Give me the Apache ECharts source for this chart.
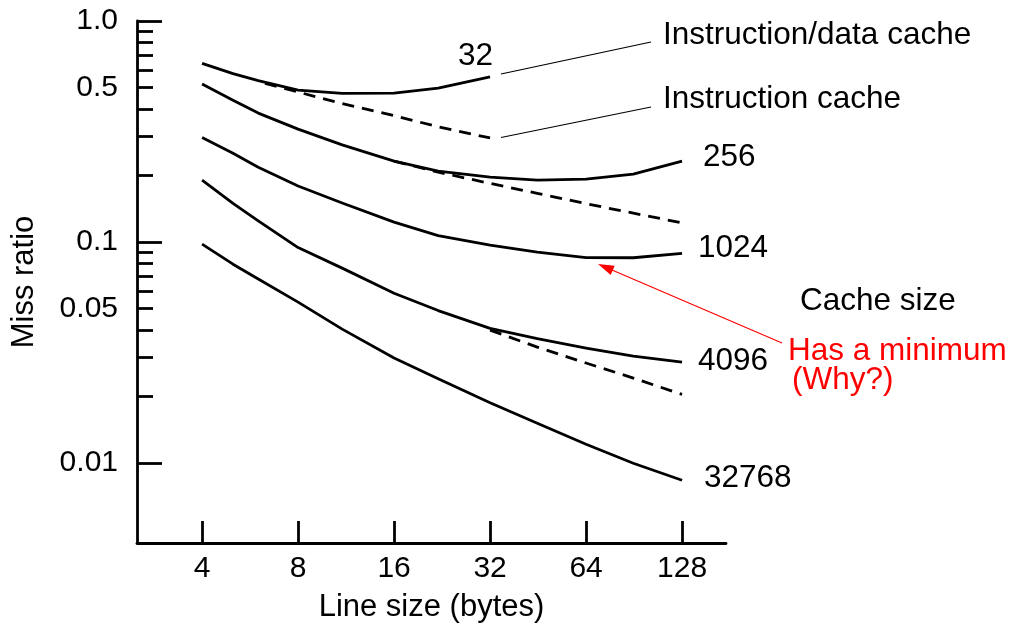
<!DOCTYPE html>
<html>
<head>
<meta charset="utf-8">
<title>Miss ratio vs line size</title>
<script src="https://cdn.jsdelivr.net/npm/echarts@6/dist/echarts.min.js"></script>
<style>
  html, body { margin: 0; padding: 0; background: #fff; }
  #chart { width: 1015px; height: 629px; }
</style>
</head>
<body>
<div id="chart"></div>
<script>
// line sizes (bytes) used along each curve
const sizesFull = [4, 5, 6, 8, 11, 16, 22, 32, 45, 64, 90, 128];
const sizes32 = [4, 5, 6, 8, 11, 16, 22, 32];
const sizes32Instr = [6.3, 8, 11, 16, 22, 32];
const sizes256Instr = [16, 22, 32, 45, 64, 90, 128];
const sizes4096Instr = [32, 45, 64, 90, 128];

// miss ratios
const unified32 = [0.643, 0.578, 0.537, 0.487, 0.470, 0.472, 0.497, 0.559];
const instr32 = [0.522, 0.477, 0.423, 0.373, 0.332, 0.2955];
const unified256 = [0.518, 0.438, 0.383, 0.324, 0.275, 0.232, 0.209, 0.1965, 0.1905, 0.1925, 0.2028, 0.232];
const instr256 = [0.232, 0.207, 0.184, 0.166, 0.149, 0.135, 0.122];
const unified1024 = [0.297, 0.252, 0.218, 0.179, 0.150, 0.123, 0.1068, 0.0967, 0.0899, 0.0849, 0.0848, 0.0887];
const unified4096 = [0.1905, 0.1494, 0.1245, 0.0943, 0.0761, 0.0586, 0.0489, 0.0406, 0.0365, 0.0331, 0.0304, 0.0286];
const instr4096 = [0.0399, 0.0334, 0.0283, 0.0242, 0.0204];
const unified32768 = [0.0977, 0.0793, 0.0679, 0.0534, 0.0403, 0.0298, 0.0240, 0.0187, 0.0151, 0.01214, 0.00996, 0.00834];

// axis ticks
const xTicks = [4, 8, 16, 32, 64, 128];
const yMajorTicks = [0.01, 0.1, 1];
const yMinorTicks = [0.02, 0.03, 0.04, 0.05, 0.06, 0.07, 0.08, 0.09,
                     0.2, 0.3, 0.4, 0.5, 0.6, 0.7, 0.8, 0.9];
const yLabels = [0.01, 0.05, 0.1, 0.5, 1];

const FONT = '"Liberation Sans", Arial, Helvetica, sans-serif';

const zip = (xs, ys) => xs.map((x, i) => [x, ys[i]]);

function curve(name, xs, ys, dashed) {
  return {
    name: name,
    type: 'line',
    data: zip(xs, ys),
    showSymbol: false,
    symbol: 'none',
    smooth: false,
    silent: true,
    lineStyle: {
      color: '#000',
      width: 2.8,
      join: 'round',
      type: dashed ? [12, 8] : 'solid'
    }
  };
}

function label(text, x, y, color) {
  return {
    type: 'text',
    silent: true,
    style: {
      text: text,
      x: x,
      y: y,
      fill: color || '#000',
      font: '31.5px ' + FONT,
      align: 'left',
      verticalAlign: 'middle'
    }
  };
}

const chart = echarts.init(document.getElementById('chart'));

chart.setOption({
  animation: false,
  backgroundColor: '#fff',
  textStyle: { fontFamily: FONT },
  grid: { left: 137, right: 289, top: 21, bottom: 86 },
  xAxis: {
    type: 'log',
    logBase: 2,
    min: 2.5,
    max: 175.8,
    name: 'Line size (bytes)',
    nameLocation: 'middle',
    nameGap: 49,
    nameTextStyle: { color: '#000', fontSize: 31, fontFamily: FONT },
    axisLine: { lineStyle: { color: '#000', width: 2.8 } },
    axisTick: {
      inside: true,
      length: 22,
      customValues: xTicks,
      lineStyle: { color: '#000', width: 2.8 }
    },
    axisLabel: {
      customValues: xTicks,
      color: '#000',
      fontSize: 30,
      fontFamily: FONT,
      margin: 11,
      formatter: v => String(Math.round(v))
    },
    splitLine: { show: false },
    minorTick: { show: false }
  },
  yAxis: [{
    type: 'log',
    min: 0.004337,
    max: 1,
    name: 'Miss ratio',
    nameLocation: 'middle',
    nameGap: 97,
    nameTextStyle: { color: '#000', fontSize: 31, fontFamily: FONT },
    axisLine: { lineStyle: { color: '#000', width: 2.8 } },
    axisTick: {
      inside: true,
      length: 25,
      customValues: yMajorTicks,
      lineStyle: { color: '#000', width: 2.8 }
    },
    axisLabel: {
      customValues: yLabels,
      color: '#000',
      fontSize: 30,
      fontFamily: FONT,
      margin: 19,
      padding: [3, 0, 0, 0],
      formatter: v => (Math.abs(v - 1) < 1e-9 ? '1.0' : String(Number(v.toPrecision(2))))
    },
    splitLine: { show: false }
  }, {
    type: 'log',
    min: 0.004337,
    max: 1,
    position: 'left',
    axisLine: { show: false },
    axisTick: {
      inside: true,
      length: 16,
      customValues: yMinorTicks,
      lineStyle: { color: '#000', width: 2.8 }
    },
    axisLabel: { show: false },
    splitLine: { show: false }
  }],
  series: [
    curve('32', sizes32, unified32, false),
    curve('32 instruction', sizes32Instr, instr32, true),
    curve('256', sizesFull, unified256, false),
    curve('256 instruction', sizes256Instr, instr256, true),
    curve('1024', sizesFull, unified1024, false),
    curve('4096', sizesFull, unified4096, false),
    curve('4096 instruction', sizes4096Instr, instr4096, true),
    curve('32768', sizesFull, unified32768, false)
  ],
  graphic: [
    label('32', 458, 56),
    label('Instruction/data cache', 663, 35),
    label('Instruction cache', 663, 99),
    label('256', 703, 157),
    label('1024', 698, 248),
    label('Cache size', 800, 301),
    label('4096', 698, 361),
    label('32768', 704, 478),
    label('Has a minimum', 788, 351, '#ff0000'),
    label('(Why?)', 792, 380, '#ff0000'),
    {
      type: 'line', silent: true,
      shape: { x1: 501, y1: 74, x2: 651, y2: 42 },
      style: { stroke: '#000', lineWidth: 1.2 }
    },
    {
      type: 'line', silent: true,
      shape: { x1: 501, y1: 137.5, x2: 651, y2: 107 },
      style: { stroke: '#000', lineWidth: 1.2 }
    },
    {
      type: 'line', silent: true,
      shape: { x1: 782, y1: 343, x2: 612, y2: 270 },
      style: { stroke: '#ff0000', lineWidth: 1.2 }
    },
    {
      type: 'polygon', silent: true,
      shape: { points: [[598, 264], [614.7, 265.7], [610.7, 274.9]] },
      style: { fill: '#ff0000' }
    }
  ]
});
</script>
</body>
</html>
